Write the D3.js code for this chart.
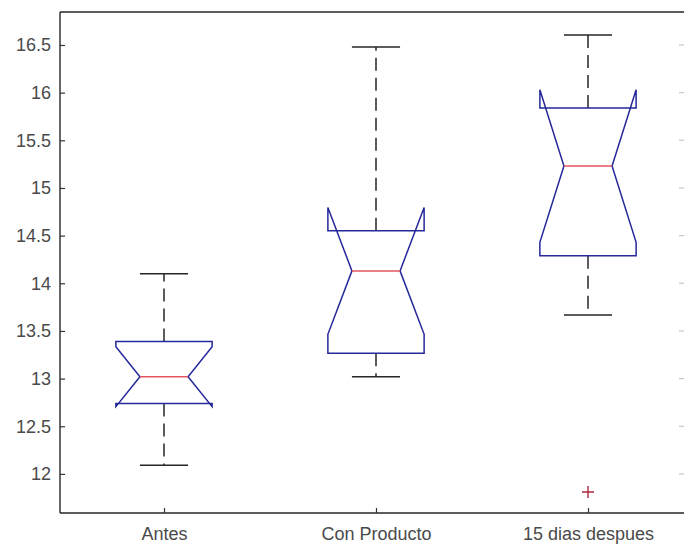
<!DOCTYPE html>
<html>
<head>
<meta charset="utf-8">
<script src="https://cdn.jsdelivr.net/npm/d3@7"></script>
<style>
  html, body { margin: 0; padding: 0; background: #ffffff; }
  svg { display: block; }
  .tick text { font-family: "Liberation Sans", Arial, sans-serif; fill: #4a4a4a; }
</style>
</head>
<body>
<svg id="chart" width="684" height="544"></svg>
<script>
// Group labels and notched-box statistics for each group
const categories = ["Antes", "Con Producto", "15 dias despues"];
const q1        = [12.74, 13.265, 14.29];
const medians   = [13.02, 14.13, 15.23];
const q3        = [13.39, 14.55, 15.84];
const notchLo   = [12.705, 13.465, 14.43];
const notchHi   = [13.335, 14.795, 16.03];
const whiskerLo = [12.09, 13.02, 13.667];
const whiskerHi = [14.10, 16.48, 16.605];
const outliers  = [[], [], [11.81]];
const yTicks    = [12, 12.5, 13, 13.5, 14, 14.5, 15, 15.5, 16, 16.5];

const W = 684, H = 544;
const plotLeft = 60, plotTop = 12, plotBottom = 513, plotRight = 695;

const svg = d3.select("#chart");

const x = d3.scaleLinear().domain([0.5, 3.5]).range([58, plotRight - 1]);
const y = d3.scaleLinear().domain([11.59, 16.846]).range([plotBottom, plotTop]);

const boxHalf = 0.227;           // half box width in group units
const notchHalf = boxHalf / 2;   // half width at the median

const blue = "#26299a", red = "#e2555f", black = "#262626";

// Axis frame
const frame = svg.append("g");
frame.append("line").attr("x1", plotLeft).attr("x2", plotLeft).attr("y1", plotTop).attr("y2", plotBottom)
  .attr("stroke", "#262626").attr("stroke-width", 1.4);
frame.append("line").attr("x1", plotLeft).attr("x2", W + 5).attr("y1", plotTop).attr("y2", plotTop)
  .attr("stroke", "#262626").attr("stroke-width", 1.4);
frame.append("line").attr("x1", plotLeft).attr("x2", W + 5).attr("y1", plotBottom).attr("y2", plotBottom)
  .attr("stroke", "#262626").attr("stroke-width", 1.4);

// Y axis with inward ticks
const yAxis = d3.axisLeft(y).tickValues(yTicks).tickFormat(d3.format("")).tickSizeInner(-5).tickSizeOuter(0).tickPadding(9);
const gy = svg.append("g").attr("transform", `translate(${plotLeft},0)`).call(yAxis);
gy.select(".domain").remove();
gy.selectAll(".tick line").attr("stroke", "#333").attr("stroke-width", 1.2);
gy.selectAll(".tick text").style("font-size", "18px");

// Mirrored ticks along the right edge
svg.append("g").selectAll("line").data(yTicks).join("line")
  .attr("x1", W - 5).attr("x2", W).attr("y1", d => y(d)).attr("y2", d => y(d))
  .attr("stroke", "#c8c8c8").attr("stroke-width", 1.2);

// X axis with inward ticks
const xAxis = d3.axisBottom(x).tickValues([1, 2, 3]).tickFormat((d, i) => categories[i]).tickSizeInner(-5).tickSizeOuter(0).tickPadding(14);
const gx = svg.append("g").attr("transform", `translate(0,${plotBottom})`).call(xAxis);
gx.select(".domain").remove();
gx.selectAll(".tick line").attr("stroke", "#333").attr("stroke-width", 1.2);
gx.selectAll(".tick text").style("font-size", "18px");

// Boxes
const groups = categories.map((c, i) => ({
  pos: i + 1, q1: q1[i], med: medians[i], q3: q3[i],
  nlo: notchLo[i], nhi: notchHi[i], wlo: whiskerLo[i], whi: whiskerHi[i], out: outliers[i]
}));

const g = svg.append("g");
groups.forEach(d => {
  const xl = x(d.pos - boxHalf), xr = x(d.pos + boxHalf);
  const xnl = x(d.pos - notchHalf), xnr = x(d.pos + notchHalf);
  const xc = x(d.pos);

  // dashed whiskers
  g.append("line").attr("x1", xc).attr("x2", xc).attr("y1", y(d.q3)).attr("y2", y(d.whi))
    .attr("stroke", black).attr("stroke-width", 1.5).attr("stroke-dasharray", "13,7");
  g.append("line").attr("x1", xc).attr("x2", xc).attr("y1", y(d.q1)).attr("y2", y(d.wlo))
    .attr("stroke", black).attr("stroke-width", 1.5).attr("stroke-dasharray", "13,7");
  // whisker caps
  [d.whi, d.wlo].forEach(v => {
    g.append("line").attr("x1", xnl).attr("x2", xnr).attr("y1", y(v)).attr("y2", y(v))
      .attr("stroke", black).attr("stroke-width", 1.5);
  });

  // notched box outline
  const pts = [
    [xl, y(d.q1)], [xl, y(d.nlo)], [xnl, y(d.med)], [xl, y(d.nhi)], [xl, y(d.q3)],
    [xr, y(d.q3)], [xr, y(d.nhi)], [xnr, y(d.med)], [xr, y(d.nlo)], [xr, y(d.q1)]
  ];
  g.append("path").attr("d", d3.line()(pts) + "Z")
    .attr("fill", "none").attr("stroke", blue).attr("stroke-width", 1.5).attr("stroke-linejoin", "miter");

  // median
  g.append("line").attr("x1", xnl).attr("x2", xnr).attr("y1", y(d.med)).attr("y2", y(d.med))
    .attr("stroke", red).attr("stroke-width", 1.5);

  // outliers
  d.out.forEach(v => {
    const cx = xc, cy = y(v), s = 6;
    g.append("path").attr("d", `M${cx - s},${cy}H${cx + s}M${cx},${cy - s}V${cy + s}`)
      .attr("stroke", "#b0283c").attr("stroke-width", 1.4).attr("fill", "none");
  });
});
</script>
</body>
</html>
